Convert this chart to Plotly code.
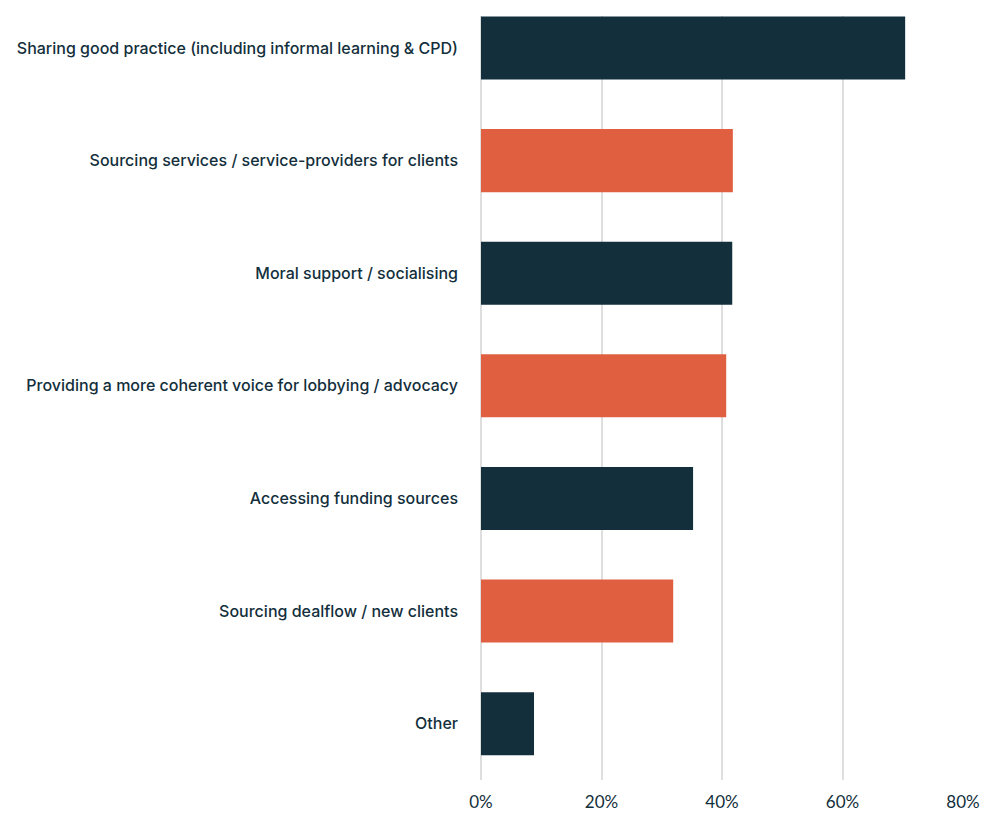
import plotly.graph_objects as go

categories = [
    "Sharing good practice (including informal learning & CPD)",
    "Sourcing services / service-providers for clients",
    "Moral support / socialising",
    "Providing a more coherent voice for lobbying / advocacy",
    "Accessing funding sources",
    "Sourcing dealflow / new clients",
    "Other",
]
values = [70.4, 41.8, 41.7, 40.7, 35.2, 31.9, 8.8]
bar_colors = ["#132f3c", "#e05f41", "#132f3c", "#e05f41", "#132f3c", "#e05f41", "#132f3c"]
x_ticks = [0, 20, 40, 60, 80]
x_tick_labels = ["0%", "20%", "40%", "60%", "80%"]

fig = go.Figure(
    go.Bar(
        x=values,
        y=categories,
        orientation="h",
        marker=dict(color=bar_colors, line=dict(width=0)),
        width=0.56,
        hoverinfo="x+y",
    )
)

fig.update_layout(
    width=985,
    height=814,
    margin=dict(l=481, r=22, t=16, b=34, autoexpand=False),
    paper_bgcolor="white",
    plot_bgcolor="white",
    showlegend=False,
    font=dict(family="Inter", color="#132f3c"),
)

fig.update_xaxes(
    range=[0, 80],
    tickvals=x_ticks,
    ticktext=x_tick_labels,
    showgrid=True,
    gridcolor="#dedede",
    gridwidth=1.5,
    zeroline=True,
    zerolinecolor="#dedede",
    zerolinewidth=1.5,
    showline=False,
    ticks="",
    automargin=False,
    tickfont=dict(family="Lato", size=17, color="#132f3c"),
    ticklabelstandoff=10,
)

fig.update_yaxes(
    type="category",
    categoryorder="array",
    categoryarray=categories,
    range=[6.5, -0.284],
    showgrid=False,
    zeroline=False,
    showline=False,
    ticks="",
    automargin=False,
    tickfont=dict(family="Inter", size=16, color="#132f3c", weight=500),
    ticklabelstandoff=22,
)

fig.write_html("out.html")
